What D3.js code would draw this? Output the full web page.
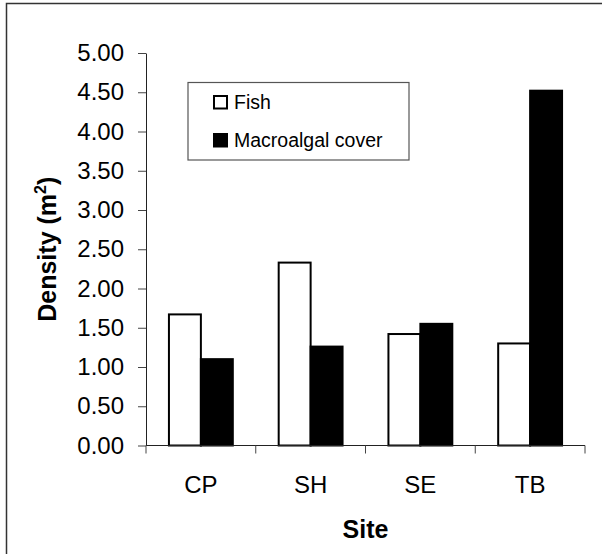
<!DOCTYPE html>
<html><head><meta charset="utf-8">
<script src="https://cdn.jsdelivr.net/npm/d3@7"></script>
<style>body{margin:0;background:#fff}svg{display:block}text{font-family:"Liberation Sans",Arial,sans-serif}</style>
</head><body><svg id="c" width="602" height="554"></svg>
<script>
const sites = ["CP","SH","SE","TB"];
const seriesNames = ["Fish","Macroalgal cover"];
const fish = [1.67, 2.33, 1.42, 1.30];
const macroalgal = [1.10, 1.26, 1.55, 4.52];
const yTicks = [0,0.5,1,1.5,2,2.5,3,3.5,4,4.5,5];

const svg = d3.select("#c");
// outer frame (only left/top visible in reference)
svg.append("rect").attr("x",6.5).attr("y",3.5).attr("width",620).attr("height",580)
  .attr("fill","none").attr("stroke","#333").attr("stroke-width",1.5);

const pL=146, pR=585, pT=53, pB=445.5;
const x = d3.scaleBand().domain(sites).range([pL,pR]).paddingInner(0.418).paddingOuter(0.209);
const x1 = d3.scaleBand().domain(seriesNames).range([0,x.bandwidth()]);
const y = d3.scaleLinear().domain([0,5]).range([pB,pT]);

const data = sites.map((s,i)=>({site:s, vals:[{k:seriesNames[0],v:fish[i]},{k:seriesNames[1],v:macroalgal[i]}]}));

const g = svg.append("g");
g.selectAll("g.grp").data(data).join("g").attr("class","grp")
 .attr("transform",d=>`translate(${x(d.site)},0)`)
 .selectAll("rect").data(d=>d.vals).join("rect")
 .attr("x",d=>x1(d.k)).attr("width",x1.bandwidth())
 .attr("y",d=>y(d.v)).attr("height",d=>pB-y(d.v))
 .attr("fill",d=>d.k==="Fish"?"#fff":"#000")
 .attr("stroke","#000").attr("stroke-width",2);

// y axis
const ya = svg.append("g").attr("transform",`translate(${pL},0)`)
  .call(d3.axisLeft(y).tickValues(yTicks).tickFormat(d3.format(".2f")).tickSize(8).tickSizeOuter(0).tickPadding(14));
ya.selectAll("text").attr("font-size",24).attr("fill","#000").attr("font-family","Liberation Sans, Arial, sans-serif");
ya.select(".domain").attr("stroke","#222");
ya.selectAll(".tick line").attr("stroke","#444");

// x axis with ticks at category boundaries
const xa = svg.append("g").attr("transform",`translate(0,${pB})`);
xa.append("line").attr("x1",pL).attr("x2",pR).attr("stroke","#222");
const bounds = sites.map(s=>x(s)-x.step()*x.paddingInner()/2).concat([pR]);
xa.selectAll("line.tk").data(bounds).join("line").attr("class","tk")
  .attr("x1",d=>d).attr("x2",d=>d).attr("y1",0).attr("y2",8).attr("stroke","#444");
xa.selectAll("text").data(sites).join("text")
  .attr("x",d=>x(d)+x.bandwidth()/2).attr("y",47).attr("text-anchor","middle")
  .attr("font-size",24).text(d=>d);

// axis titles
svg.append("text").attr("x",(pL+pR)/2).attr("y",538).attr("text-anchor","middle")
  .attr("font-size",25).attr("font-weight","bold").text("Site");
const yl = svg.append("text").attr("transform",`translate(56,${(pT+pB)/2}) rotate(-90)`)
  .attr("text-anchor","middle").attr("font-size",25).attr("font-weight","bold");
yl.append("tspan").text("Density (m");
yl.append("tspan").attr("font-size",16).attr("dy",-10).text("2");
yl.append("tspan").attr("dy",10).text(")");

// legend
const lg = svg.append("g");
lg.append("rect").attr("x",188).attr("y",82.5).attr("width",221).attr("height",77.5)
  .attr("fill","#fff").attr("stroke","#555").attr("stroke-width",1.2);
const li = lg.selectAll("g.li").data(seriesNames).join("g").attr("class","li")
  .attr("transform",(d,i)=>`translate(214,${96+i*38})`);
li.append("rect").attr("width",13).attr("height",12.5)
  .attr("fill",d=>d==="Fish"?"#fff":"#000").attr("stroke","#000").attr("stroke-width",2);
li.append("text").attr("x",20).attr("y",13).attr("font-size",19.5).text(d=>d);
</script></body></html>
